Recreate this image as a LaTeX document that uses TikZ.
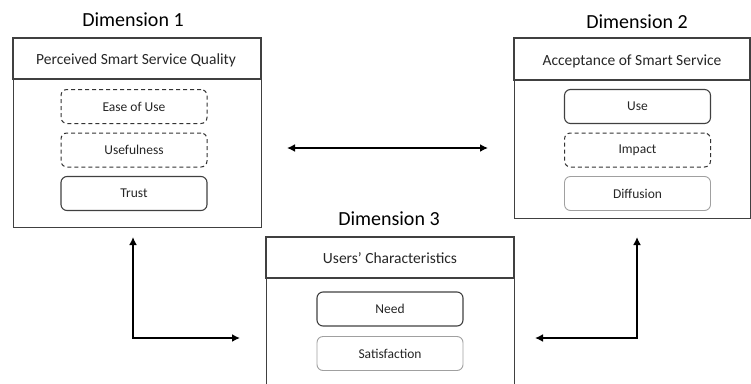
\documentclass[tikz,border=0pt]{standalone}
\usepackage{fontspec}
\setmainfont{Carlito}
\usetikzlibrary{arrows.meta}
\definecolor{boxline}{HTML}{404040}
\definecolor{lightline}{HTML}{A0A0A0}
\definecolor{txt}{HTML}{262626}
\begin{document}
\begin{tikzpicture}[x=1pt,y=-1pt,
  outer/.style={draw=boxline,line width=0.9pt},
  header/.style={draw=boxline,line width=1.1pt},
  title/.style={font=\fontsize{20}{22}\selectfont,text=black},
  htext/.style={font=\fontsize{15.5}{17}\selectfont,text=txt},
  itembox/.style={rounded corners=6pt,minimum width=146pt,minimum height=34pt,inner sep=0pt,font=\fontsize{13.5}{15}\selectfont,text=txt},
  solidbox/.style={itembox,draw=boxline,line width=1.1pt},
  dashbox/.style={itembox,draw=black!80,line width=1pt,dash pattern=on 4pt off 3pt},
  lightbox/.style={itembox,draw=lightline,line width=0.9pt},
  conn/.style={line width=2.7pt,{Latex[length=8pt,width=8pt]}-{Latex[length=8pt,width=8pt]}}
]
\useasboundingbox (0,0) rectangle (751,383);
% Dimension 1
\node[title] (t1) at (133,20) {Dimension 1};
\draw[outer] (13,38) rectangle (261,227);
\draw[header] (13,38) rectangle (261,79);
\node[htext] (h1) at (136,60) {Perceived Smart Service Quality};
\node[dashbox] (eou) at (134,106.5) {Ease of Use};
\node[dashbox] (usef) at (134,150) {Usefulness};
\node[solidbox] (trust) at (134,193.5) {Trust};
% Dimension 2
\node[title] (t2) at (637,22) {Dimension 2};
\draw[outer] (514,38) rectangle (750,218);
\draw[header] (514,38) rectangle (750,80);
\node[htext] (h2) at (632,61) {Acceptance of Smart Service};
\node[solidbox] (use) at (637.5,106.5) {Use};
\node[dashbox] (impact) at (637.5,150) {Impact};
\node[lightbox] (diff) at (637.5,193.5) {Diffusion};
% Dimension 3
\node[title] (t3) at (389,219) {Dimension 3};
\draw[outer] (266,237) -- (266,392) (514,237) -- (514,392);
\draw[header] (266,237) rectangle (514,278);
\node[htext] (h3) at (390,258) {Users’ Characteristics};
\node[solidbox] (need) at (390,309) {Need};
\node[lightbox] (sat) at (390,353.5) {Satisfaction};
% connectors
\coordinate (a1) at (287,148);
\coordinate (a2) at (488,148);
\draw[conn] (a1) -- (a2);
\coordinate (l1) at (133,237);
\coordinate (l2) at (240,338);
\draw[conn] (l1) |- (l2);
\coordinate (r1) at (637,237);
\coordinate (r2) at (535,338);
\draw[conn] (r1) |- (r2);
\end{tikzpicture}
\end{document}
